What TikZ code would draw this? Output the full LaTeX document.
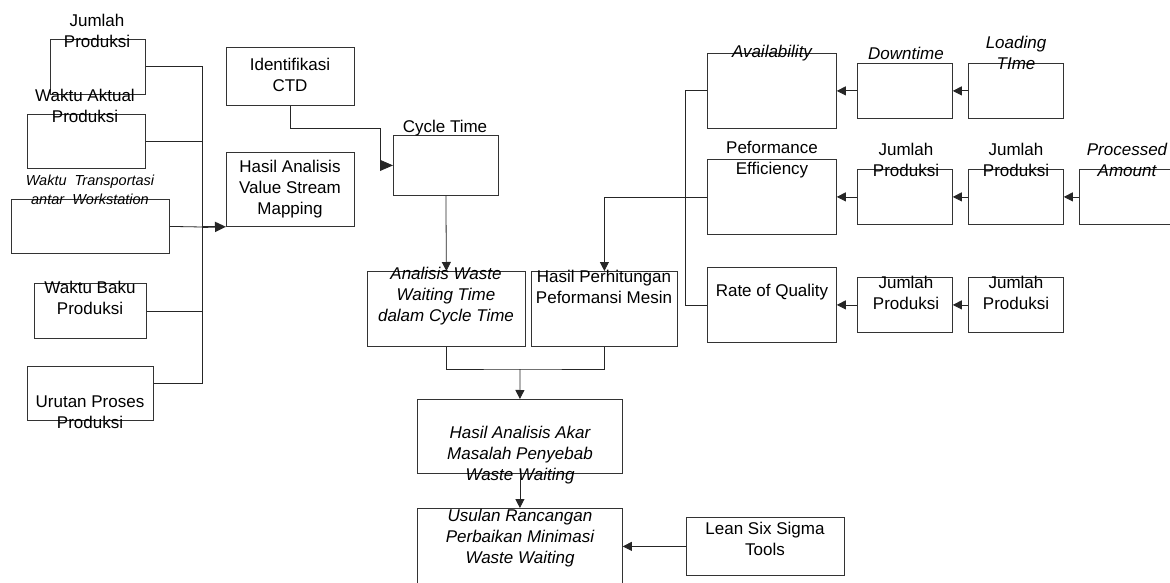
\documentclass[tikz,border=0pt]{standalone}
\usepackage{fontspec}
\setmainfont{Liberation Sans}
\usetikzlibrary{arrows.meta}

\begin{document}
\begin{tikzpicture}[x=1pt,y=-1pt,
  box/.style={draw=black!80,line width=0.8pt,anchor=north west,inner sep=0pt},
  lbl/.style={align=center,inner sep=0pt,font=\fontsize{17}{21}\selectfont},
  ilbl/.style={lbl,font=\fontsize{17}{21}\selectfont\itshape},
  ln/.style={draw=black!85,line width=0.8pt},
  arr/.style={ln,-{Triangle[length=9pt,width=9pt]}}]

\useasboundingbox[fill=white] (0,0) rectangle (1170,583);

% left column
\node[box,minimum width=95pt,minimum height=55pt] (jp1) at (50,39) {};
\node[box,minimum width=118pt,minimum height=54pt] (wap) at (27,114) {};
\node[box,minimum width=158pt,minimum height=54pt] (wtr) at (11,199) {};
\node[box,minimum width=112pt,minimum height=55pt] (wbp) at (34,283) {};
\node[box,minimum width=126pt,minimum height=54pt] (upp) at (27,366) {};

\node[lbl] (tjp1) at (97,31) {Jumlah\\Produksi};
\node[lbl] (twap) at (85,106) {Waktu Aktual\\Produksi};
\node[lbl,font=\fontsize{14.5}{19}\selectfont\itshape] (twtr) at (90,189.5) {Waktu~~Transportasi\\antar~~Workstation};
\node[lbl] (twbp) at (90,298) {Waktu Baku\\Produksi};
\node[lbl] (tupp) at (90,412.5) {Urutan Proses\\Produksi};

% middle
\node[box,minimum width=128pt,minimum height=58pt] (ctd) at (226,47) {};
\node[box,minimum width=128pt,minimum height=74pt] (vsm) at (226,152) {};
\node[box,minimum width=105pt,minimum height=60pt] (ct) at (393,135) {};
\node[box,minimum width=158pt,minimum height=75pt] (aw) at (367,271) {};
\node[box,minimum width=146pt,minimum height=75pt] (hpm) at (531,271) {};
\node[box,minimum width=205pt,minimum height=74pt] (akar) at (417,399) {};
\node[box,minimum width=205pt,minimum height=82pt] (usul) at (417,508) {};
\node[box,minimum width=158pt,minimum height=58pt] (lss) at (686,517) {};

\node[lbl] (tctd) at (290,75) {Identifikasi\\CTD};
\node[lbl] (tvsm) at (290,189) {Hasil Analisis\\Value Stream\\Mapping};
\node[lbl] (tct) at (445,128) {Cycle Time};
\node[ilbl] (taw) at (446,296.5) {Analisis Waste\\Waiting Time\\dalam Cycle Time};
\node[lbl] (thpm) at (604,286.5) {Hasil Perhitungan\\Peformansi Mesin};
\node[ilbl] (takar) at (520,455.5) {Hasil Analisis Akar\\Masalah Penyebab\\Waste Waiting};
\node[ilbl] (tusul) at (520,538.5) {Usulan Rancangan\\Perbaikan Minimasi\\Waste Waiting};
\node[lbl] (tlss) at (765,538.5) {Lean Six Sigma\\Tools};

% right block
\node[box,minimum width=129pt,minimum height=75pt] (avail) at (707,53) {};
\node[box,minimum width=95pt,minimum height=55pt] (down) at (857,63) {};
\node[box,minimum width=95pt,minimum height=55pt] (load) at (968,63) {};
\node[box,minimum width=129pt,minimum height=75pt] (pe) at (707,159) {};
\node[box,minimum width=95pt,minimum height=55pt] (jp2) at (857,169) {};
\node[box,minimum width=95pt,minimum height=55pt] (jp3) at (968,169) {};
\node[box,minimum width=96pt,minimum height=55pt] (proc) at (1079,169) {};
\node[box,minimum width=129pt,minimum height=75pt] (roq) at (707,267) {};
\node[box,minimum width=95pt,minimum height=55pt] (jp4) at (857,277) {};
\node[box,minimum width=95pt,minimum height=55pt] (jp5) at (968,277) {};

\node[ilbl] (tavail) at (772,53) {Availability};
\node[ilbl] (tdown) at (906,53) {Downtime};
\node[ilbl] (tload) at (1016,53) {Loading\\TIme};
\node[lbl] (tpe) at (772,160) {Peformance\\Efficiency};
\node[lbl] (tjp2) at (906,160) {Jumlah\\Produksi};
\node[lbl] (tjp3) at (1016,160) {Jumlah\\Produksi};
\node[ilbl] (tproc) at (1127,160) {Processed\\Amount};
\node[lbl] (troq) at (772,292) {Rate of Quality};
\node[lbl] (tjp4) at (906,292.5) {Jumlah\\Produksi};
\node[lbl] (tjp5) at (1016,292.5) {Jumlah\\Produksi};

% connectors
\coordinate (bus) at (202,227);
\coordinate (ctbend) at (380,128);
\coordinate (join) at (520,369);

\draw[ln] (jp1.east) -| (bus);
\draw[ln] (wap.east) -| (bus);
\draw[ln] (wtr.east) -- (bus);
\draw[ln] (wbp.east) -| (bus);
\draw[ln] ([yshift=10pt]upp.east) -| (bus);
\draw[ln,line width=1.6pt,-{Triangle[length=11pt,width=10pt]}] (bus) -- (vsm.south west);

\draw[ln,-{Triangle[length=13pt,width=11pt]}] (ctd.south) |- (ctbend) |- (ct.west);
\draw[arr] (ct.south) -- (aw.north);
\draw[arr] (pe.west) -| (hpm.north);
\draw[ln] (avail.west) -- ++(-22,0) |- (roq.west);
\draw[ln] (aw.south) |- (join) -| (hpm.south);
\draw[arr] (join) -- (akar.north);
\draw[arr] (akar.south) -- (usul.north);
\draw[arr] (lss.west) -- (usul.east |- lss.west);

\draw[arr] (down.west) -- (avail.east |- down.west);
\draw[arr] (load.west) -- (down.east);
\draw[arr] (jp2.west) -- (pe.east |- jp2.west);
\draw[arr] (jp3.west) -- (jp2.east);
\draw[arr] (proc.west) -- (jp3.east);
\draw[arr] (jp4.west) -- (roq.east |- jp4.west);
\draw[arr] (jp5.west) -- (jp4.east);

\end{tikzpicture}
\end{document}
